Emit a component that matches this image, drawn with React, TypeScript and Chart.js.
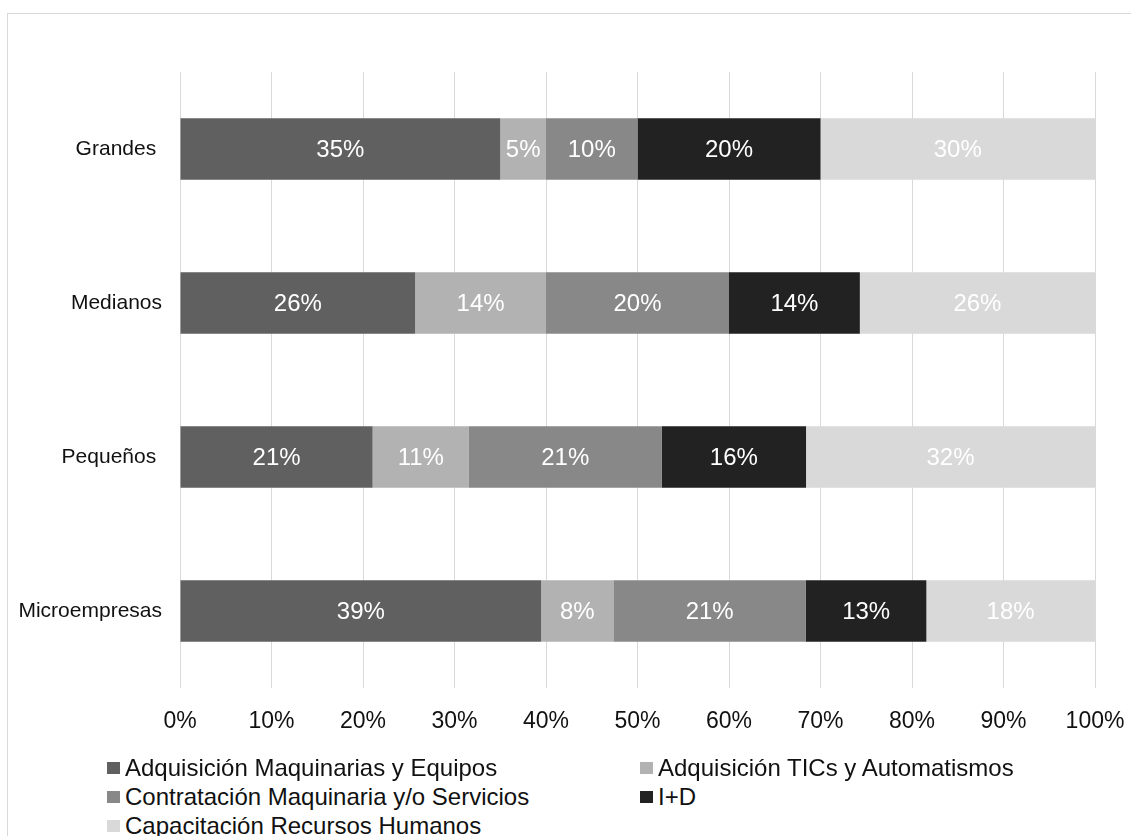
import React, { useEffect, useRef } from "react";
import { Chart, registerables } from "chart.js";

Chart.register(...registerables);

const categories = ["Grandes ", "Medianos", "Pequeños ", "Microempresas"];
const seriesNames = [
  "Adquisición Maquinarias y Equipos",
  "Adquisición TICs y Automatismos",
  "Contratación Maquinaria y/o Servicios",
  "I+D",
  "Capacitación Recursos Humanos",
];
const adquisicionMaq = [35, 25.7, 21.05, 39.47];
const adquisicionTics = [5, 14.3, 10.53, 7.89];
const contratacion = [10, 20, 21.05, 21.05];
const iMasD = [20, 14.3, 15.79, 13.16];
const capacitacion = [30, 25.7, 31.58, 18.42];
const xTicks = [0, 10, 20, 30, 40, 50, 60, 70, 80, 90, 100];

const colors = ["#606060", "#b2b2b2", "#888888", "#222222", "#d9d9d9"];
const FONT = "'Liberation Sans', Arial, sans-serif";

const CANVAS_W = 1123;
const CANVAS_H = 740;

const dataLabelPlugin = {
  id: "dataLabels",
  afterDatasetsDraw(chart: any) {
    const ctx = chart.ctx;
    ctx.save();
    ctx.font = `24px ${FONT}`;
    ctx.fillStyle = "#ffffff";
    ctx.textAlign = "center";
    ctx.textBaseline = "middle";
    chart.data.datasets.forEach((ds: any, di: number) => {
      const meta = chart.getDatasetMeta(di);
      meta.data.forEach((el: any, i: number) => {
        const v = ds.data[i];
        const cx = (el.x + el.base) / 2;
        ctx.fillText(`${Math.round(v)}%`, cx, el.y + 1);
      });
    });
    ctx.restore();
  },
};

export default function App() {
  const ref = useRef<HTMLCanvasElement>(null);

  useEffect(() => {
    if (!ref.current) return;
    const seriesData = [adquisicionMaq, adquisicionTics, contratacion, iMasD, capacitacion];
    const chart = new Chart(ref.current, {
      type: "bar",
      data: {
        labels: categories,
        datasets: seriesNames.map((name, i) => ({
          label: name,
          data: seriesData[i],
          backgroundColor: colors[i],
          borderWidth: 0,
          barPercentage: 0.4,
          categoryPercentage: 1,
        })),
      },
      options: {
        indexAxis: "y",
        responsive: false,
        animation: false,
        devicePixelRatio: 1,
        layout: { padding: { top: 58, right: 36, left: 0, bottom: 0 } },
        plugins: {
          legend: { display: false },
          tooltip: { enabled: false },
          title: { display: false },
        },
        scales: {
          x: {
            stacked: true,
            min: 0,
            max: 100,
            afterBuildTicks: (scale: any) => {
              scale.ticks = xTicks.map((v) => ({ value: v }));
            },
            afterFit: (scale: any) => {
              scale.height = 66;
              scale.paddingLeft = 0;
              scale.paddingRight = 0;
            },
            grid: { color: "#d9d9d9", lineWidth: 1, drawTicks: false },
            border: { display: false },
            ticks: {
              padding: 20,
              color: "#111111",
              font: { family: FONT, size: 23 },
              callback: (v: any) => `${v}%`,
              maxRotation: 0,
              autoSkip: false,
            },
          },
          y: {
            stacked: true,
            afterFit: (scale: any) => {
              scale.width = 172;
              scale.paddingTop = 0;
              scale.paddingBottom = 0;
            },
            grid: { display: false, drawTicks: false },
            border: { display: false },
            ticks: {
              padding: 18,
              color: "#111111",
              font: { family: FONT, size: 21 },
            },
          },
        },
      },
      plugins: [dataLabelPlugin],
    } as any);
    return () => chart.destroy();
  }, []);

  const legendPos = [
    { left: 99, top: 739 },
    { left: 632, top: 739 },
    { left: 99, top: 768 },
    { left: 632, top: 768 },
    { left: 99, top: 797 },
  ];

  return (
    <div
      style={{
        position: "absolute",
        left: 7,
        top: 13,
        width: 1124,
        height: 823,
        borderTop: "1px solid #d9d9d9",
        borderLeft: "1px solid #d9d9d9",
        boxSizing: "border-box",
        overflow: "hidden",
        background: "#ffffff",
      }}
    >
      <canvas
        ref={ref}
        width={CANVAS_W}
        height={CANVAS_H}
        style={{ position: "absolute", left: 0, top: 0, width: CANVAS_W, height: CANVAS_H }}
      />
      {seriesNames.map((name, i) => (
        <div
          key={name}
          style={{
            position: "absolute",
            left: legendPos[i].left,
            top: legendPos[i].top,
            height: 29,
            lineHeight: "29px",
            fontFamily: FONT,
            fontSize: 24,
            color: "#111111",
            whiteSpace: "nowrap",
            display: "flex",
            alignItems: "center",
          }}
        >
          <span
            style={{
              display: "inline-block",
              width: 13,
              height: 12,
              background: colors[i],
              marginRight: 5,
            }}
          />
          {name}
        </div>
      ))}
    </div>
  );
}
